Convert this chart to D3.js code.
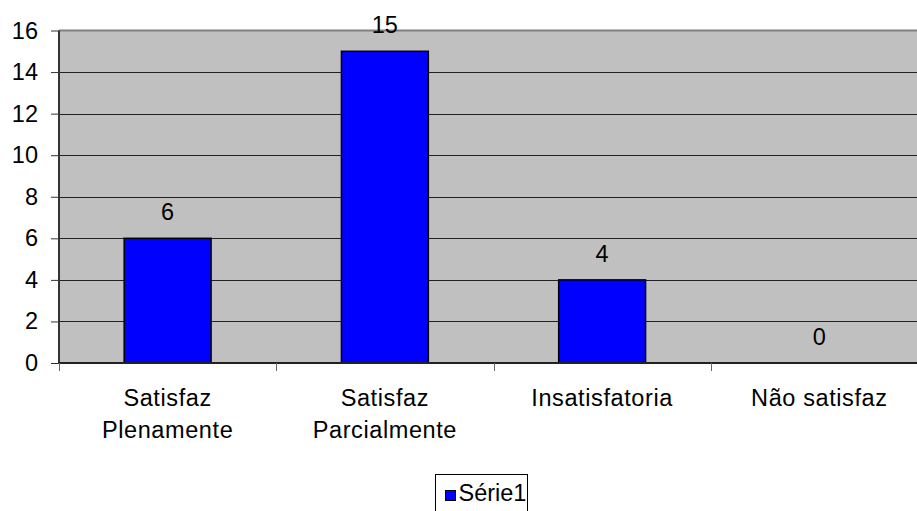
<!DOCTYPE html>
<html>
<head>
<meta charset="utf-8">
<script src="https://cdn.jsdelivr.net/npm/d3@7"></script>
<style>
  html, body { margin: 0; padding: 0; background: #fff; overflow: hidden; }
  text { font-family: "Liberation Sans", Arial, sans-serif; fill: #000; }
</style>
</head>
<body>
<svg id="chart" width="917" height="511"></svg>
<script>
// categorias e valores
var categorias = [["Satisfaz", "Plenamente"], ["Satisfaz", "Parcialmente"], ["Insatisfatoria"], ["Não satisfaz"]];
var valores = [6, 15, 4, 0];
var yticks = [0, 2, 4, 6, 8, 10, 12, 14, 16];
var serie = "Série1";

var svg = d3.select("#chart");
var fs = 23.5;

var pLeft = 59, pRight = 928, pTop = 30.5, pBottom = 363;

var x = d3.scaleBand().domain(d3.range(categorias.length)).range([pLeft, pRight]).paddingInner(0.6).paddingOuter(0.3);
var xb = d3.scaleBand().domain(d3.range(categorias.length)).range([pLeft, pRight]);
var y = d3.scaleLinear().domain([0, 16]).range([pBottom, pTop]);

// area do grafico
svg.append("rect")
  .attr("x", pLeft).attr("y", pTop)
  .attr("width", pRight - pLeft).attr("height", pBottom - pTop)
  .attr("fill", "#c0c0c0");

svg.append("line")
  .attr("x1", pLeft).attr("x2", pRight)
  .attr("y1", pTop).attr("y2", pTop)
  .attr("stroke", "#808080").attr("stroke-width", 2);

// linhas de grade
svg.selectAll(".grid").data(yticks.slice(1, -1)).enter().append("line")
  .attr("class", "grid")
  .attr("x1", pLeft).attr("x2", pRight)
  .attr("y1", function (d) { return Math.round(y(d)) + 0.5; })
  .attr("y2", function (d) { return Math.round(y(d)) + 0.5; })
  .attr("stroke", "#222").attr("stroke-width", 1);

// barras
svg.selectAll(".bar").data(valores).enter().append("rect")
  .attr("class", "bar")
  .attr("x", function (d, i) { return x(i); })
  .attr("y", function (d) { return y(d); })
  .attr("width", x.bandwidth())
  .attr("height", function (d) { return pBottom - y(d); })
  .attr("fill", "#0000ff")
  .attr("stroke", "#000").attr("stroke-width", 1.5)
  .style("display", function (d) { return d > 0 ? null : "none"; });

// eixo y
var yAxis = svg.append("g")
  .attr("transform", "translate(" + pLeft + ",0)")
  .call(d3.axisLeft(y).tickValues(yticks).tickSize(8).tickPadding(13));
yAxis.select(".domain").attr("stroke", "#333").attr("stroke-width", 2).attr("d", "M0," + pTop + "V" + pBottom);
yAxis.selectAll(".tick line").attr("stroke", "#333");
yAxis.selectAll(".tick text").attr("font-size", fs).attr("font-family", "Liberation Sans, Arial, sans-serif").attr("fill", "#000");

// eixo x
var xAxis = svg.append("g").attr("transform", "translate(0," + pBottom + ")");
xAxis.append("line").attr("x1", pLeft).attr("x2", pRight).attr("stroke", "#222").attr("stroke-width", 2);
xAxis.selectAll(".xt").data(d3.range(categorias.length + 1)).enter().append("line")
  .attr("class", "xt")
  .attr("x1", function (d) { return Math.round(pLeft + d * xb.step()) + 0.5; })
  .attr("x2", function (d) { return Math.round(pLeft + d * xb.step()) + 0.5; })
  .attr("y1", 0).attr("y2", 8)
  .attr("stroke", "#666");

var rotulos = xAxis.selectAll(".xl").data(categorias).enter().append("text")
  .attr("class", "xl")
  .attr("text-anchor", "middle")
  .attr("font-size", fs)
  .attr("letter-spacing", 0.6);
rotulos.selectAll("tspan").data(function (d, i) { return d.map(function (s) { return { s: s, i: i }; }); })
  .enter().append("tspan")
  .attr("x", function (d) { return xb(d.i) + xb.bandwidth() / 2; })
  .attr("y", function (d, j) { return 43 + j * 32; })
  .text(function (d) { return d.s; });

// rotulos de dados
svg.selectAll(".lbl").data(valores).enter().append("text")
  .attr("class", "lbl")
  .attr("text-anchor", "middle")
  .attr("font-size", fs)
  .attr("x", function (d, i) { return xb(i) + xb.bandwidth() / 2; })
  .attr("y", function (d) { return y(d) - 18; })
  .text(function (d) { return d; });

// legenda
var leg = svg.append("g").attr("transform", "translate(435.5,474.5)");
leg.append("rect").attr("width", 92).attr("height", 40).attr("fill", "#fff").attr("stroke", "#000");
leg.append("rect").attr("x", 10).attr("y", 16).attr("width", 10).attr("height", 10)
  .attr("fill", "#0000ff").attr("stroke", "#000");
leg.append("text").attr("x", 23).attr("y", 26.5).attr("font-size", fs).text(serie);
</script>
</body>
</html>
